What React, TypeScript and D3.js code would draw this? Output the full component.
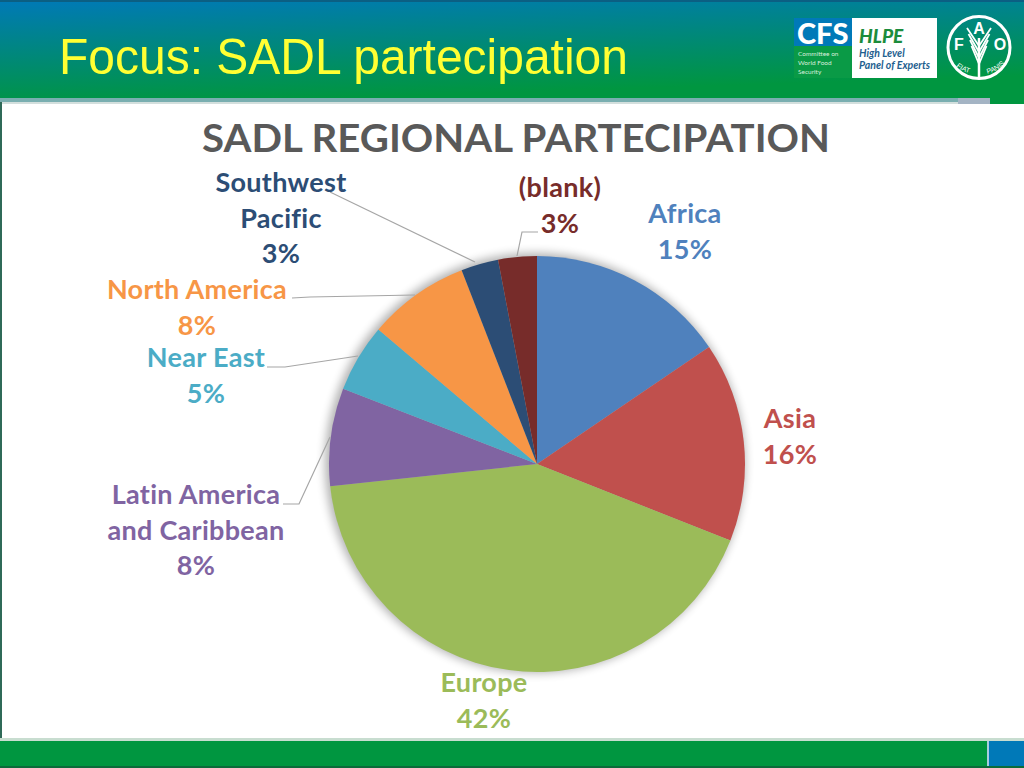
import React from 'react';
import * as d3 from 'd3';

const regions = ['Africa', 'Asia', 'Europe', 'Latin America and Caribbean', 'Near East', 'North America', 'Southwest Pacific', '(blank)'];
const shares = [15.5, 15.5, 42.3, 7.6, 5.3, 7.9, 2.9, 3.0];
const shownPct = ['15%', '16%', '42%', '8%', '5%', '8%', '3%', '3%'];
const sliceColors = ['#4f81bd', '#c0504d', '#9bbb59', '#8064a2', '#4bacc6', '#f79646', '#2c4d75', '#772c2a'];
const labelLines = [['Africa'], ['Asia'], ['Europe'], ['Latin America', 'and Caribbean'], ['Near East'], ['North America'], ['Southwest', 'Pacific'], ['(blank)']];
// label block centre x / first baseline
const labelPos = [[685, 223], [790, 428], [484, 692], [196, 504], [206, 367], [197, 299], [281, 192], [560, 197]];
const lineHeight = 35.5;
const leaders = [
  null, null, null,
  [[283, 504], [299, 504], [330, 437]],
  [[267, 367], [285, 367], [358, 356]],
  [[292, 298], [310, 297], [415, 295]],
  [[330, 192], [475, 262]],
  [[538, 232], [522, 232], [517, 256]],
];
const wheatRows = [0, 1, 2, 3];

const cx = 537;
const cy = 464;
const radius = 208;

export default function App() {
  const pie = d3.pie<number>().sort(null).startAngle(0).endAngle(2 * Math.PI);
  const arcs = pie(shares);
  const arc = d3.arc<d3.PieArcDatum<number>>().innerRadius(0).outerRadius(radius);
  const leaderPath = d3.line();

  return (
    <svg width={1024} height={768} style={{ position: 'absolute', left: 0, top: 0 }}>
      <defs>
        <linearGradient id="band" x1="0" y1="0" x2="0.3" y2="0.95">
          <stop offset="0" stopColor="#0079b8" />
          <stop offset="1" stopColor="#009640" />
        </linearGradient>
        <filter id="pieShadow" x="-15%" y="-15%" width="130%" height="130%">
          <feGaussianBlur stdDeviation="5" />
        </filter>
        <path id="fiat" d="M952 62 A31 31 0 0 0 975 74" />
        <path id="panis" d="M984 74 A31 31 0 0 0 1007 61" />
      </defs>

      <rect x={0} y={0} width={1024} height={104} fill="url(#band)" />
      <rect x={0} y={0} width={1024} height={2} fill="#0b5f83" />
      <rect x={0} y={98} width={958} height={4} fill="#79aeb0" />
      <rect x={0} y={102} width={958} height={2} fill="#d3dfdd" />
      <rect x={958} y={98} width={32} height={6} fill="#a4b4c4" />
      <rect x={0} y={104} width={1024} height={636} fill="#ffffff" />
      <rect x={0} y={102} width={2} height={638} fill="#2f6a58" />
      <rect x={0} y={738} width={1024} height={3} fill="#c8ddd0" />
      <rect x={0} y={741} width={1024} height={27} fill="#009640" />
      <rect x={987} y={741} width={2} height={27} fill="#a8cde0" />
      <rect x={989} y={741} width={35} height={27} fill="#0079b8" />
      <rect x={0} y={766} width={1024} height={2} fill="#0b6b3a" />

      <text x={59} y={74} fontFamily="Liberation Sans" fontSize={50} fill="#ffff33" textLength={569} lengthAdjust="spacingAndGlyphs">Focus: SADL partecipation</text>

      {/* CFS / HLPE logo */}
      <rect x={794} y={18} width={58} height={28} fill="#0079b8" />
      <rect x={794} y={46} width={58} height={32} fill="#0a9a46" />
      <text x={797} y={44} fontFamily="Lato" fontWeight={900} fontSize={29} fill="#ffffff">CFS</text>
      <g fontFamily="Lato" fontSize={6.5} fill="#d8eedd">
        <text x={798} y={56}>Committee on</text>
        <text x={798} y={65}>World Food</text>
        <text x={798} y={74}>Security</text>
      </g>
      <rect x={852} y={18} width={85} height={60} fill="#ffffff" />
      <text x={859} y={43} fontFamily="Lato" fontStyle="italic" fontWeight={900} fontSize={19} fill="#1c8c3c">HLPE</text>
      <g fontFamily="Lato" fontStyle="italic" fontWeight={700} fontSize={10.5} fill="#1f5f8f">
        <text x={859} y={57}>High Level</text>
        <text x={859} y={69}>Panel of Experts</text>
      </g>

      {/* FAO logo */}
      <g fill="none" stroke="#ffffff">
        <circle cx={979} cy={47.5} r={31} strokeWidth={3} />
        <path d="M979 78 V38" strokeWidth={2.5} />
        {wheatRows.map(r => (
          <path key={r} d={`M${967 + r * 1.5} ${28 + r * 6} L979 ${46 + r * 6} L${991 - r * 1.5} ${28 + r * 6}`} strokeWidth={1.8} />
        ))}
      </g>
      <g fontFamily="Liberation Sans" fontWeight={700} fill="#ffffff" textAnchor="middle">
        <text x={979} y={34} fontSize={16}>A</text>
        <text x={959} y={50} fontSize={16}>F</text>
        <text x={1000} y={50} fontSize={16}>O</text>
        <text fontSize={7} fontWeight={400}><textPath href="#fiat" startOffset="50%">FIAT</textPath></text>
        <text fontSize={7} fontWeight={400}><textPath href="#panis" startOffset="50%">PANIS</textPath></text>
      </g>

      <text x={516} y={152} textAnchor="middle" fontFamily="Lato" fontWeight={700} fontSize={39} fill="#595959" textLength={628} lengthAdjust="spacingAndGlyphs">SADL REGIONAL PARTECIPATION</text>

      <circle cx={cx - 2} cy={cy - 1} r={radius + 2} fill="#000000" opacity={0.3} filter="url(#pieShadow)" />
      <g transform={`translate(${cx},${cy})`}>
        {arcs.map((d, i) => (
          <path key={regions[i]} d={arc(d) ?? ''} fill={sliceColors[i]} />
        ))}
      </g>

      {leaders.map((pts, i) => pts && (
        <path key={i} d={leaderPath(pts as [number, number][]) ?? ''} fill="none" stroke="#a6a6a6" strokeWidth={1.2} />
      ))}

      {labelLines.map((lines, i) => (
        <text key={regions[i]} textAnchor="middle" fontFamily="Lato" fontWeight={700} fontSize={27} letterSpacing={0.3} fill={sliceColors[i]}>
          {lines.concat(shownPct[i]).map((t, j) => (
            <tspan key={j} x={labelPos[i][0]} y={labelPos[i][1] + j * lineHeight}>{t}</tspan>
          ))}
        </text>
      ))}
    </svg>
  );
}
